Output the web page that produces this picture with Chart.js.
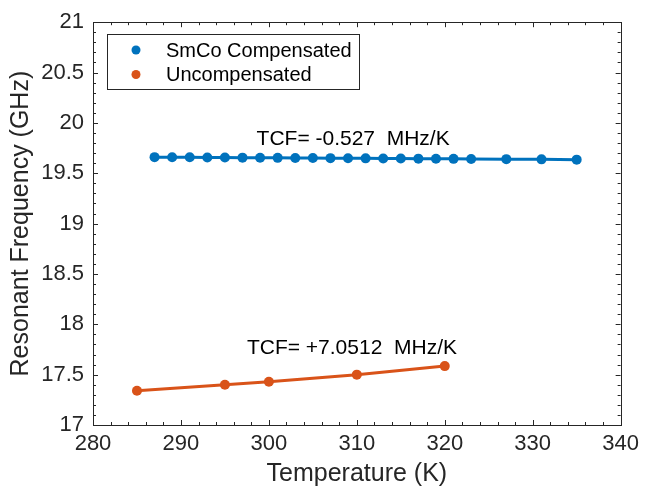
<!DOCTYPE html>
<html>
<head>
<meta charset="utf-8">
<script src="https://cdn.jsdelivr.net/npm/chart.js@4/dist/chart.umd.min.js"></script>
<style>
  html, body { margin: 0; padding: 0; background: #fff; }
  #wrap { width: 645px; height: 493px; position: relative; }
</style>
</head>
<body>
<div id="wrap"><canvas id="chart1"></canvas></div>
<script>
// data
const smcoTemp = [287, 289, 291, 293, 295, 297, 299, 301, 303, 305, 307, 309, 311, 313, 315, 317, 319, 321, 323, 327, 331, 335];
const smcoFreq = [19.660, 19.659, 19.658, 19.657, 19.656, 19.655, 19.654, 19.653, 19.652, 19.651, 19.650,
                  19.649, 19.648, 19.647, 19.646, 19.645, 19.644, 19.643, 19.642, 19.640, 19.638, 19.635];
const uncompTemp = [285, 295, 300, 310, 320];
const uncompFreq = [17.34, 17.40, 17.43, 17.50, 17.585];
const seriesNames = ["SmCo Compensated", "Uncompensated"];
const tcfLabels = ["TCF= -0.527  MHz/K", "TCF= +7.0512  MHz/K"];
const xTicks = [280, 290, 300, 310, 320, 330, 340];
const yTicks = [17, 17.5, 18, 18.5, 19, 19.5, 20, 20.5, 21];

const FONT = "'Liberation Sans', Arial, Helvetica, sans-serif";
const AXIS = "#262626";

// matlab style box, inward ticks, text labels and legend
const matlabBox = {
  id: "matlabBox",
  afterDatasetsDraw(chart) {
    const {ctx, chartArea: a, scales: {x, y}} = chart;
    ctx.save();
    ctx.strokeStyle = AXIS;
    ctx.lineWidth = 1;
    ctx.beginPath();
    for (let v = 280; v <= 340.001; v += 2) {
      const px = Math.round(x.getPixelForValue(v)) + 0.5;
      const len = Math.abs(v % 10) < 0.01 ? 5 : 3;
      ctx.moveTo(px, a.bottom); ctx.lineTo(px, a.bottom - len);
      ctx.moveTo(px, a.top); ctx.lineTo(px, a.top + len);
    }
    for (let i = 0; i <= 40; i++) {
      const v = 17 + i * 0.1;
      const py = Math.round(y.getPixelForValue(v)) + 0.5;
      const len = i % 5 === 0 ? 5 : 3;
      ctx.moveTo(a.left, py); ctx.lineTo(a.left + len, py);
      ctx.moveTo(a.right, py); ctx.lineTo(a.right - len, py);
    }
    ctx.stroke();
    ctx.strokeRect(Math.round(a.left) + 0.5, Math.round(a.top) + 0.5,
                   Math.round(a.right - a.left), Math.round(a.bottom - a.top));

    // TCF labels
    ctx.fillStyle = "#000";
    ctx.font = "21px " + FONT;
    ctx.textAlign = "left";
    ctx.textBaseline = "middle";
    ctx.fillText(tcfLabels[0], x.getPixelForValue(298.6), y.getPixelForValue(19.835));
    ctx.fillText(tcfLabels[1], x.getPixelForValue(297.5), y.getPixelForValue(17.76));

    // legend
    const lx = 107.5, ly = 34.5, lw = 252, lh = 55;
    ctx.fillStyle = "#fff";
    ctx.fillRect(lx, ly, lw, lh);
    ctx.strokeStyle = AXIS;
    ctx.strokeRect(lx, ly, lw, lh);
    ctx.font = "20px " + FONT;
    chart.data.datasets.forEach((ds, i) => {
      const cy = 50 + i * 24.5;
      ctx.fillStyle = ds.borderColor;
      ctx.beginPath();
      ctx.arc(136, cy, 4.5, 0, Math.PI * 2);
      ctx.fill();
      ctx.fillStyle = "#000";
      ctx.fillText(ds.label, 166, cy + 1);
    });
    ctx.restore();
  }
};

const chart1 = () => {
  const canvas = document.getElementById("chart1");
  const ctx = canvas.getContext("2d");

  new Chart(ctx, {
    type: "line",
    data: {
      datasets: [
        {
          label: seriesNames[0],
          data: smcoTemp.map((t, i) => ({ x: t, y: smcoFreq[i] })),
          borderColor: "#0072BD",
          backgroundColor: "#0072BD",
          borderWidth: 3,
          pointRadius: 5,
          pointBorderWidth: 0,
        },
        {
          label: seriesNames[1],
          data: uncompTemp.map((t, i) => ({ x: t, y: uncompFreq[i] })),
          borderColor: "#D95319",
          backgroundColor: "#D95319",
          borderWidth: 3,
          pointRadius: 5,
          pointBorderWidth: 0,
        },
      ],
    },
    options: {
      responsive: true,
      maintainAspectRatio: false,
      animation: false,
      layout: {
        padding: { top: 21, right: 20, left: 0, bottom: 0 }
      },
      plugins: {
        legend: { display: false },
        tooltip: { enabled: false },
      },
      scales: {
        x: {
          type: "linear",
          min: 280,
          max: 340,
          afterBuildTicks: (s) => { s.ticks = xTicks.map(v => ({ value: v })); },
          afterFit: (s) => { s.height = 68; },
          grid: { display: false, drawTicks: false },
          border: { display: false },
          ticks: {
            color: AXIS,
            padding: 6,
            maxRotation: 0,
            font: { family: FONT, size: 22 },
            callback: (v) => String(v),
          },
          title: {
            display: true,
            text: "Temperature (K)",
            color: AXIS,
            font: { family: FONT, size: 25 },
            padding: { top: 0, bottom: 4 },
          },
        },
        y: {
          type: "linear",
          min: 17,
          max: 21,
          afterBuildTicks: (s) => { s.ticks = yTicks.map(v => ({ value: v })); },
          afterFit: (s) => { s.width = 93; },
          grid: { display: false, drawTicks: false },
          border: { display: false },
          ticks: {
            color: AXIS,
            padding: 9,
            font: { family: FONT, size: 22 },
            callback: (v) => String(v),
          },
          title: {
            display: true,
            text: "Resonant Frequency (GHz)",
            color: AXIS,
            font: { family: FONT, size: 25 },
            padding: { top: 6, bottom: 0 },
          },
        },
      },
    },
    plugins: [matlabBox],
  });
};

(function () {
  chart1();
})();
</script>
</body>
</html>
